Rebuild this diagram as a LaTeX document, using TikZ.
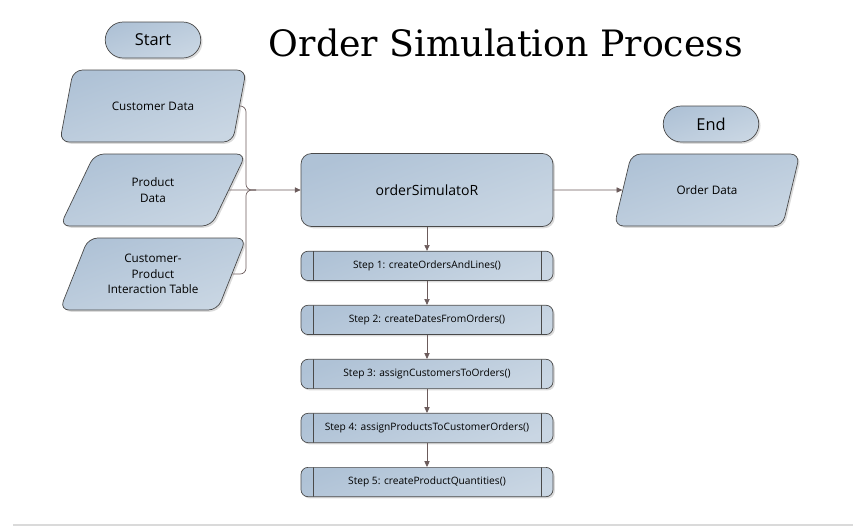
\documentclass[tikz,border=0pt]{standalone}
\usepackage{fontspec}
\setmainfont{Open Sans}
\newfontfamily\titlefont{DejaVu Serif}
\usetikzlibrary{arrows.meta, positioning, shapes.geometric, shapes.misc, shadows, calc}
\definecolor{ostop}{HTML}{AFC2D6}
\definecolor{osbot}{HTML}{C9D6E3}
\definecolor{osline}{HTML}{4A4A4A}
\definecolor{oslink}{HTML}{6B5B5B}
\definecolor{osrule}{HTML}{DADADA}

\begin{document}
\begin{tikzpicture}[x=0.03cm, y=-0.03cm,
  boxfill/.style={top color=ostop, bottom color=osbot, shading angle=20, draw=osline, line width=0.6pt,
    drop shadow={shadow xshift=1.5pt, shadow yshift=-1.5pt, fill=black!35, opacity=0.4}},
  terminal/.style={boxfill, rounded rectangle, minimum width=3.1cm, minimum height=1.08cm,
    font=\fontsize{14}{16}\selectfont},
  datanode/.style={boxfill, trapezium, trapezium left angle=65, trapezium right angle=115,
    trapezium stretches=true, minimum width=5.6cm, minimum height=2.16cm, rounded corners=8pt,
    align=center, font=\fontsize{10}{13}\selectfont},
  process/.style={boxfill, rectangle, rounded corners=9pt, minimum width=7.56cm, minimum height=2.19cm,
    font=\fontsize{12}{14}\selectfont},
  stepbox/.style={boxfill, rectangle, rounded corners=6pt, minimum width=7.56cm, minimum height=0.88cm,
    font=\fontsize{8.7}{11}\selectfont,
    path picture={
      \draw[osline, line width=0.6pt] ($(path picture bounding box.north west)+(0.36cm,0)$) -- ($(path picture bounding box.south west)+(0.36cm,0)$);
      \draw[osline, line width=0.6pt] ($(path picture bounding box.north east)+(-0.36cm,0)$) -- ($(path picture bounding box.south east)+(-0.36cm,0)$);
    }},
  link/.style={draw=oslink, line width=0.6pt},
  arrowlink/.style={link, -{Triangle[length=5pt,width=4.5pt]}},
  node distance=0.72cm,
]
  \useasboundingbox (0,0) rectangle (853,527);

  \node[terminal] (start) at (153,40) {Start};
  \node[font=\titlefont\fontsize{31}{34}\selectfont] (title) at (506,43) {Order Simulation Process};

  \node[datanode] (custdata) at (153,106) {Customer Data};
  \node[datanode] (proddata) at (153,190) {Product\\Data};
  \node[datanode] (interact) at (153,274) {Customer-\\Product\\Interaction Table};

  \node[process] (sim) at (427,190) {orderSimulatoR};
  \node[terminal] (finish) at (711,124) {End};
  \node[datanode] (orderdata) at (707,190) {Order Data};

  \node[stepbox, below=of sim] (step1) {Step 1: createOrdersAndLines()};
  \node[stepbox, below=of step1] (step2) {Step 2: createDatesFromOrders()};
  \node[stepbox, below=of step2] (step3) {Step 3: assignCustomersToOrders()};
  \node[stepbox, below=of step3] (step4) {Step 4: assignProductsToCustomerOrders()};
  \node[stepbox, below=of step4] (step5) {Step 5: createProductQuantities()};

  \coordinate (merge) at (256,190);
  \draw[link, rounded corners=5pt] (custdata.east) -| ($(merge)+(-10,0)$) -- (merge);
  \draw[link, rounded corners=5pt] (interact.east) -| ($(merge)+(-10,0)$) -- (merge);
  \draw[arrowlink] (proddata.east) -- (sim.west);
  \draw[arrowlink] (sim.east) -- (orderdata.west);

  \draw[arrowlink] (sim) -- (step1);
  \draw[arrowlink] (step1) -- (step2);
  \draw[arrowlink] (step2) -- (step3);
  \draw[arrowlink] (step3) -- (step4);
  \draw[arrowlink] (step4) -- (step5);

  \draw[osrule, line width=1.2pt] (13,525) -- (853,525);
\end{tikzpicture}
\end{document}
